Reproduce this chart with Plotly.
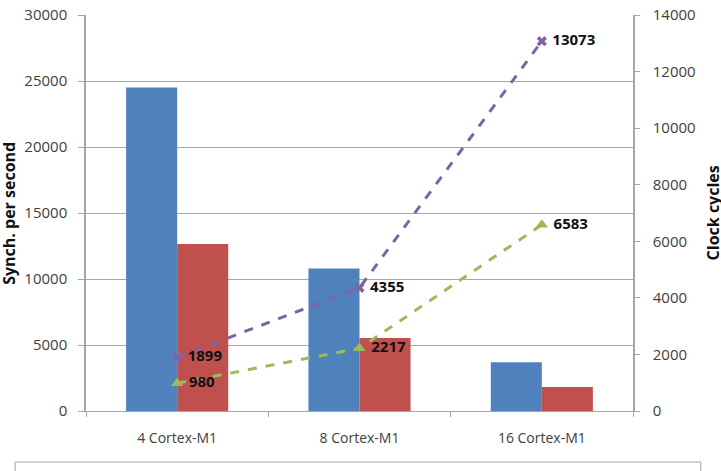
import plotly.graph_objects as go

categories = ["4 Cortex-M1", "8 Cortex-M1", "16 Cortex-M1"]
sync_hw = [24500, 10800, 3700]
sync_sw = [12650, 5530, 1820]
cycles_sw = [1899, 4355, 13073]
cycles_hw = [980, 2217, 6583]

font_family = "Open Sans, Liberation Sans, sans-serif"
tick_color = "#404040"

fig = go.Figure()
fig.add_trace(go.Bar(x=categories, y=sync_hw, name="Synch. per second (HW)",
                     marker=dict(color="#4F81BD", line=dict(width=0))))
fig.add_trace(go.Bar(x=categories, y=sync_sw, name="Synch. per second (SW)",
                     marker=dict(color="#C0504D", line=dict(width=0))))
fig.add_trace(go.Scatter(x=categories, y=cycles_sw, name="Clock cycles (SW)", yaxis="y2",
                         mode="lines+markers+text", text=[" " + str(v) for v in cycles_sw],
                         textposition="middle right",
                         textfont=dict(family=font_family, size=15, color="#111111", weight="bold"),
                         line=dict(color="#8064A2", width=3, dash="dash"),
                         marker=dict(symbol="x", size=9, color="#8064A2")))
fig.add_trace(go.Scatter(x=categories, y=cycles_hw, name="Clock cycles (HW)", yaxis="y2",
                         mode="lines+markers+text", text=[" " + str(v) for v in cycles_hw],
                         textposition="middle right",
                         textfont=dict(family=font_family, size=15, color="#111111", weight="bold"),
                         line=dict(color="#9BBB59", width=3, dash="dash"),
                         marker=dict(symbol="triangle-up", size=11, color="#9BBB59")))

fig.update_layout(
    width=721, height=520,
    margin=dict(l=86, r=88, t=15, b=109, autoexpand=False),
    paper_bgcolor="white", plot_bgcolor="white",
    font=dict(family=font_family, size=13, color=tick_color),
    barmode="group", bargap=0.44, bargroupgap=0,
    showlegend=True,
    legend=dict(orientation="h", x=0.5, xanchor="center",
                y=-0.145, yanchor="top", borderwidth=0, font=dict(size=11),
                entrywidth=132, bgcolor="rgba(0,0,0,0)"),
    shapes=[dict(type="rect", xref="paper", yref="paper", x0=-0.1296, x1=1.124,
                 y0=-0.129, y1=-0.24, line=dict(color="#A0A0A0", width=1),
                 fillcolor="rgba(0,0,0,0)", layer="below")],
    annotations=[
        dict(text="<b>Synch. per second</b>", xref="paper", yref="paper", x=-0.141, y=0.5,
             xanchor="center", yanchor="middle", textangle=-90, showarrow=False,
             font=dict(size=16, color="#111111")),
        dict(text="<b>Clock cycles</b>", xref="paper", yref="paper", x=1.147, y=0.5,
             xanchor="center", yanchor="middle", textangle=-90, showarrow=False,
             font=dict(size=16, color="#111111")),
    ],
    xaxis=dict(showgrid=False, showline=True, linecolor="#A6A6A6", linewidth=1,
               ticks="outside", tickson="boundaries", ticklen=5, tickcolor="#A6A6A6",
               ticklabelstandoff=14, automargin=False,
               tickfont=dict(size=14, color=tick_color)),
    yaxis=dict(range=[0, 30000], dtick=5000, tickformat="d", showgrid=True, gridcolor="#A6A6A6",
               gridwidth=1, showline=True, linecolor="#A6A6A6", linewidth=1.5, ticks="outside",
               ticklen=6, tickcolor="#A6A6A6", zeroline=False, automargin=False,
               ticklabelstandoff=8,
               tickfont=dict(size=15, color=tick_color)),
    yaxis2=dict(range=[0, 14000], dtick=2000, tickformat="d", overlaying="y", side="right",
                showgrid=False, showline=True, linecolor="#A6A6A6", linewidth=1.5,
                ticks="outside", ticklen=5, tickcolor="#A6A6A6", zeroline=False,
                automargin=False, ticklabelstandoff=10,
                tickfont=dict(size=15, color=tick_color)),
)

fig.write_html("out.html")
